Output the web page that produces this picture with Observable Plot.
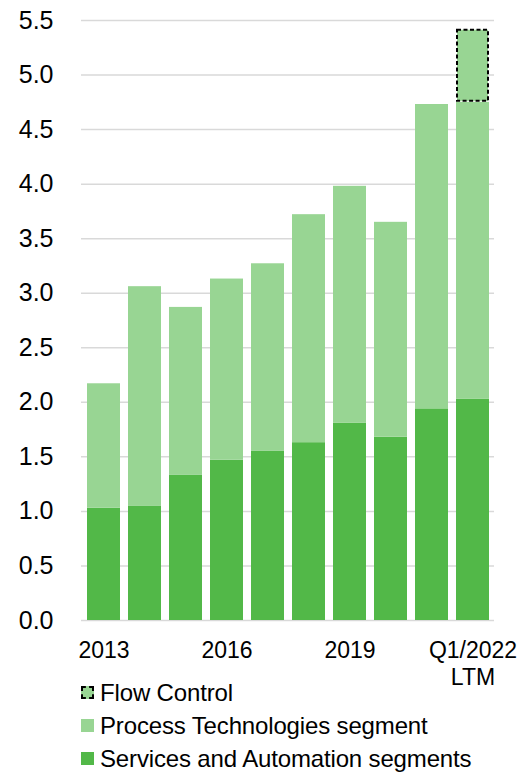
<!DOCTYPE html>
<html><head><meta charset="utf-8">
<script src="https://cdn.jsdelivr.net/npm/d3@7"></script>
<script src="https://cdn.jsdelivr.net/npm/@observablehq/plot@0.6"></script>
<style>
body{margin:0;background:#fff;font-family:"Liberation Sans",Arial,sans-serif;}
#wrap{position:relative;width:532px;height:774px}
#legend{position:absolute;left:81px;top:676px;font-size:24px;color:#000;letter-spacing:-0.15px}
.row{display:flex;align-items:center;height:33px;white-space:nowrap}
.sw{width:13px;height:13px;margin-right:6px;box-sizing:border-box;flex:none}
</style></head><body><div id="wrap"><div id="chart"></div><div id="legend"></div></div>
<script>
const categories = ["2013","2014","2015","2016","2017","2018","2019","2020","2021","Q1/2022\nLTM"];
const shownLabels = ["2013","2016","2019","Q1/2022\nLTM"];
const servicesAutomation = [1.03,1.05,1.33,1.47,1.55,1.63,1.81,1.68,1.94,2.03];
const processTech = [1.14,2.01,1.54,1.66,1.72,2.09,2.17,1.97,2.79,2.72];
const flowControl = [0,0,0,0,0,0,0,0,0,0.67];
const yTicks = [0,0.5,1,1.5,2,2.5,3,3.5,4,4.5,5,5.5];
const seriesNames = ["Flow Control","Process Technologies segment","Services and Automation segments"];
const colors = {dark:"#52b848", light:"#98d593"};

const rows = categories.map((c,i)=>({cat:c, s:servicesAutomation[i], p:processTech[i], f:flowControl[i]}));

const chart = Plot.plot({
  width: 532, height: 700,
  marginLeft: 81, marginRight: 38, marginTop: 20, marginBottom: 80,
  style: {fontFamily: '"Liberation Sans", Arial, sans-serif', color: "#000", background: "transparent"},
  x: {domain: categories, paddingInner: 0.2, paddingOuter: 0.1, label: null},
  y: {domain: [0,5.5], label: null},
  marks: [
    Plot.gridY(yTicks, {stroke: "#d9d9d9", strokeOpacity: 1, strokeWidth: 1.5}),
    Plot.barY(rows, {x: "cat", y1: 0, y2: "s", fill: colors.dark, inset: 0}),
    Plot.barY(rows, {x: "cat", y1: "s", y2: d => d.s + d.p, fill: colors.light, inset: 0}),
    Plot.barY(rows.filter(d => d.f > 0), {x: "cat", y1: d => d.s + d.p, y2: d => d.s + d.p + d.f, fill: colors.light, stroke: "#000", strokeWidth: 2, strokeDasharray: "4,2.5", inset: 1}),
    Plot.axisY({ticks: yTicks, tickFormat: d3.format(".1f"), tickSize: 0, tickPadding: 28, fontSize: 25, label: null}),
    Plot.axisX({tickSize: 0, tickPadding: 19, fontSize: 23, lineHeight: 1.15, tickFormat: d => shownLabels.includes(d) ? d : "", label: null})
  ]
});
document.getElementById("chart").appendChild(chart);

const legend = document.getElementById("legend");
const swStyles = [
  `background:${colors.light};border:2px dashed #000`,
  `background:${colors.light}`,
  `background:${colors.dark}`
];
seriesNames.forEach((n,i)=>{
  const r = document.createElement("div"); r.className="row";
  r.innerHTML = `<span class="sw" style="${swStyles[i]}"></span><span>${n}</span>`;
  legend.appendChild(r);
});
</script></body></html>
